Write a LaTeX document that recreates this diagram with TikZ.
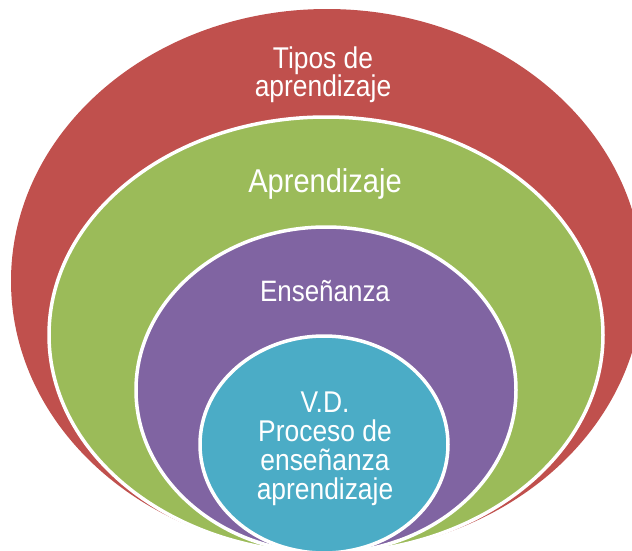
\documentclass[tikz,border=0pt]{standalone}
\usepackage{fontspec}
\setmainfont{Liberation Sans}
\newfontfamily\narrowfont[FakeStretch=0.88]{Liberation Sans}
\definecolor{cred}{HTML}{C0504D}
\definecolor{cgreen}{HTML}{9BBB59}
\definecolor{cpurple}{HTML}{8064A2}
\definecolor{ccyan}{HTML}{4BACC6}
\tikzset{
  ring/.style={draw=white, line width=3.5pt},
  lbl/.style={text=white, align=center, inner sep=0pt, font=\narrowfont\fontsize{30}{29}\selectfont},
}
\begin{document}
\begin{tikzpicture}[x=1pt,y=-1pt]
\useasboundingbox (0,0) rectangle (632,550);
\clip (0,0) rectangle (632,550);
\fill[cred] (327,281) ellipse [x radius=316, y radius=272];
\filldraw[ring, fill=cgreen] (326,335) ellipse [x radius=277, y radius=218];
\filldraw[ring, fill=cpurple] (326,390) ellipse [x radius=190, y radius=163];
\filldraw[ring, fill=ccyan] (324,444.5) ellipse [x radius=124, y radius=108.5];
\node[lbl, font=\narrowfont\fontsize{30}{28}\selectfont] (tipos) at (323,75) {Tipos de\\aprendizaje};
\node[lbl, font=\narrowfont\fontsize{33}{36}\selectfont] (apr) at (325,184) {Aprendizaje};
\node[lbl, font=\narrowfont\fontsize{29.5}{32}\selectfont] (ens) at (325,291) {Enseñanza};
\node[lbl] (vd) at (325,449) {V.D.\\Proceso de\\enseñanza\\aprendizaje};
\end{tikzpicture}
\end{document}
